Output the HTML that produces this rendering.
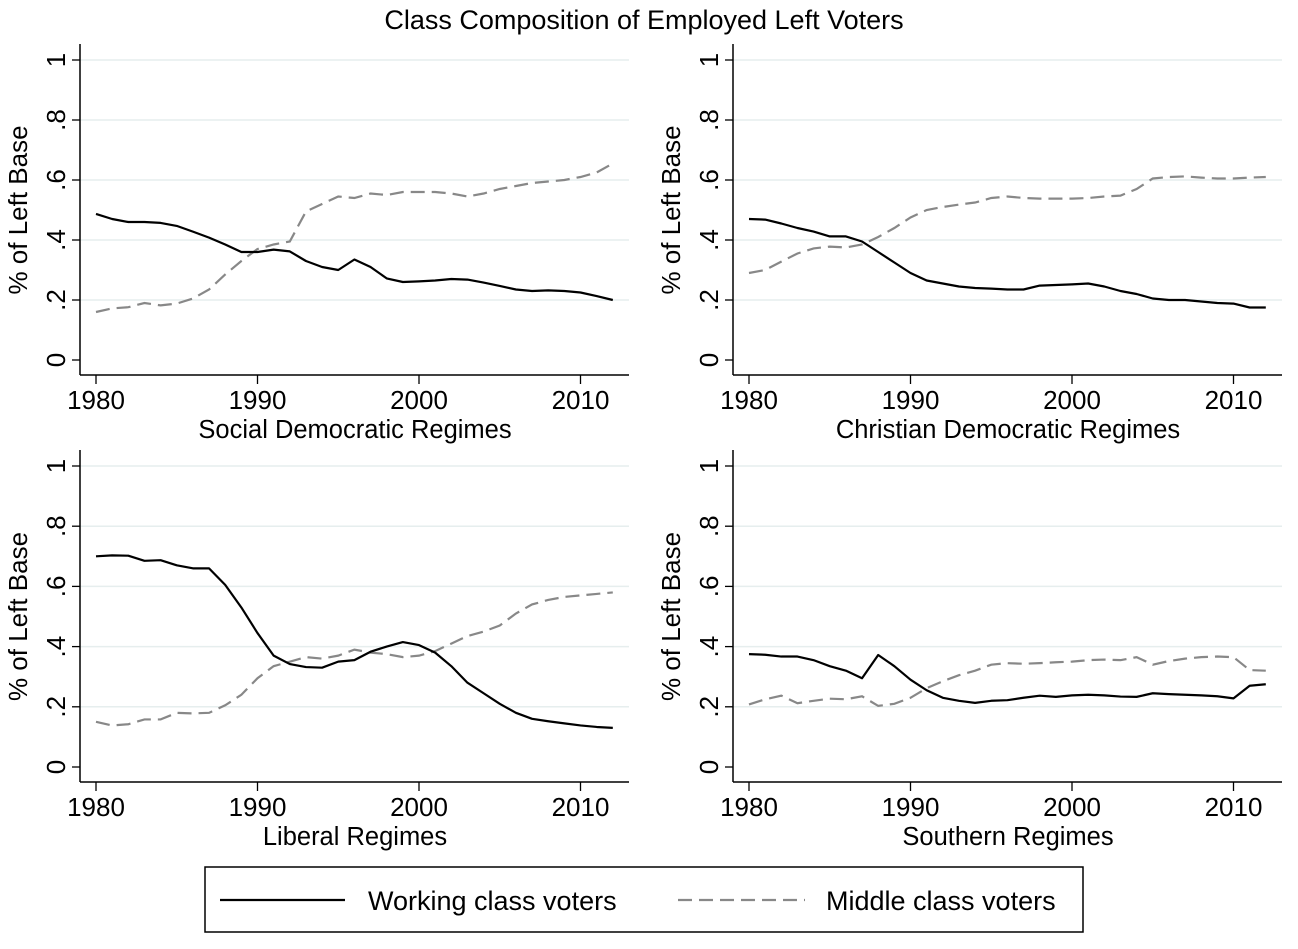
<!DOCTYPE html>
<html><head><meta charset="utf-8"><style>
body{margin:0;background:#fff;font-family:"Liberation Sans",Arial,sans-serif}
svg text{font-family:"Liberation Sans",Arial,sans-serif;fill:#000}
</style></head><body>
<svg id="c" width="1298" height="944" xmlns="http://www.w3.org/2000/svg">
<text x="644" y="29" font-size="27" text-anchor="middle">Class Composition of Employed Left Voters</text>
<g id="panels"></g>
<rect x="205" y="867" width="878" height="65" fill="none" stroke="#000" stroke-width="1.5"/>
<line x1="220" y1="900" x2="345" y2="900" stroke="#000" stroke-width="2.2"/>
<text x="368" y="910" font-size="27">Working class voters</text>
<line x1="678" y1="900" x2="805" y2="900" stroke="#888" stroke-width="2.2" stroke-dasharray="14,7"/>
<text x="826" y="910" font-size="27">Middle class voters</text>
</svg>
<script>
const years=[];for(let y=1980;y<=2012;y++)years.push(y);
const xTicks=[1980,1990,2000,2010];
const yTicks=[0,0.2,0.4,0.6,0.8,1];
const yTickLabels=["0",".2",".4",".6",".8","1"];
const panelTitles=["Social Democratic Regimes","Christian Democratic Regimes","Liberal Regimes","Southern Regimes"];
const working1=[.487,.47,.46,.46,.457,.447,.428,.408,.385,.36,.36,.368,.362,.33,.31,.30,.335,.31,.272,.26,.262,.265,.27,.268,.258,.247,.235,.23,.232,.23,.225,.213,.2];
const middle1=[.16,.172,.176,.19,.182,.188,.205,.235,.285,.33,.37,.385,.395,.495,.52,.545,.54,.555,.55,.56,.56,.56,.555,.545,.555,.57,.58,.59,.595,.6,.61,.625,.655];
const working2=[.47,.468,.455,.44,.428,.412,.412,.395,.36,.325,.29,.265,.255,.245,.24,.238,.235,.235,.248,.25,.252,.255,.245,.23,.22,.205,.2,.2,.195,.19,.188,.175,.175];
const middle2=[.29,.3,.328,.355,.372,.378,.375,.385,.41,.44,.475,.5,.51,.518,.525,.54,.545,.54,.538,.538,.538,.54,.545,.548,.57,.605,.61,.612,.608,.605,.605,.608,.61];
const working3=[.70,.703,.702,.685,.687,.67,.66,.66,.605,.53,.445,.37,.342,.332,.33,.35,.355,.383,.4,.415,.405,.38,.335,.28,.245,.21,.18,.16,.152,.145,.138,.133,.13];
const middle3=[.15,.138,.142,.158,.158,.18,.178,.18,.205,.24,.295,.335,.35,.365,.36,.37,.39,.38,.375,.365,.37,.385,.41,.435,.45,.47,.51,.54,.555,.565,.57,.575,.58];
const working4=[.375,.373,.367,.367,.355,.335,.32,.295,.372,.335,.29,.255,.23,.22,.213,.22,.222,.23,.237,.233,.238,.24,.238,.234,.233,.245,.242,.24,.238,.235,.228,.27,.275];
const middle4=[.208,.225,.237,.212,.22,.227,.225,.235,.203,.21,.23,.262,.285,.305,.32,.34,.345,.343,.345,.348,.35,.355,.357,.355,.365,.34,.352,.36,.365,.367,.365,.322,.32];
const W=[working1,working2,working3,working4],M=[middle1,middle2,middle3,middle4];
const NS="http://www.w3.org/2000/svg";
const root=document.getElementById('panels');
function mk(t,a,p){const e=document.createElementNS(NS,t);for(const k in a)e.setAttribute(k,a[k]);(p||root).appendChild(e);return e;}
const geo=[{ax:80,x0:96,y1:60,y0:360,top:44,bot:375},{ax:733,x0:749,y1:60,y0:360,top:44,bot:375},{ax:80,x0:96,y1:466,y0:767,top:450,bot:782},{ax:733,x0:749,y1:466,y0:767,top:450,bot:782}];
geo.forEach((g,i)=>{
  const sx=y=>g.x0+(y-1980)*16.15, sy=v=>g.y0-(g.y0-g.y1)*v;
  const G=mk('g',{});
  
  
  yTicks.forEach((t,j)=>{
    if(t>0){const l=mk('line',{x1:g.ax,x2:g.ax+549,y1:sy(t),y2:sy(t),stroke:'#e6eeee','stroke-width':1.5},G);
    }
    const tk=mk('line',{x1:g.ax-8,x2:g.ax,y1:sy(t),y2:sy(t),stroke:'#000','stroke-width':1.3},G);
    
    const tx=mk('text',{x:0,y:0,'font-size':26,'text-anchor':'middle',transform:`translate(${g.ax-15},${sy(t)}) rotate(-90)`},G);
    tx.textContent=yTickLabels[j];
    
  });
  const ya=mk('line',{x1:g.ax,x2:g.ax,y1:g.top,y2:g.bot,stroke:'#000','stroke-width':1.5},G);
  
  const xa=mk('line',{x1:g.ax,x2:g.ax+549,y1:g.bot,y2:g.bot,stroke:'#000','stroke-width':1.5},G);
  
  xTicks.forEach(t=>{
    const tk=mk('line',{x1:sx(t),x2:sx(t),y1:g.bot,y2:g.bot+9,stroke:'#000','stroke-width':1.3},G);
    
    const tx=mk('text',{x:sx(t),y:g.bot+34,'font-size':26,'text-anchor':'middle'},G);
    tx.textContent=t;
    
  });
  const yt=mk('text',{x:0,y:0,'font-size':26,'text-anchor':'middle',transform:`translate(${g.ax-53},${(g.y0+g.y1)/2}) rotate(-90)`},G);
  yt.textContent='% of Left Base';
  
  const pt=mk('text',{x:g.ax+275,y:g.bot+63,'font-size':25.5,'text-anchor':'middle'},G);
  pt.textContent=panelTitles[i];
  
  const pm=M[i].map((v,k)=>sx(years[k])+','+sy(v)).join(' ');
  const lm=mk('polyline',{points:pm,fill:'none',stroke:'#888','stroke-width':2.2,'stroke-dasharray':'14,7'},G);
  
  const pw=W[i].map((v,k)=>sx(years[k])+','+sy(v)).join(' ');
  const lw=mk('polyline',{points:pw,fill:'none',stroke:'#000','stroke-width':2.2,'stroke-linejoin':'round'},G);
  
});
</script>
</body></html>
